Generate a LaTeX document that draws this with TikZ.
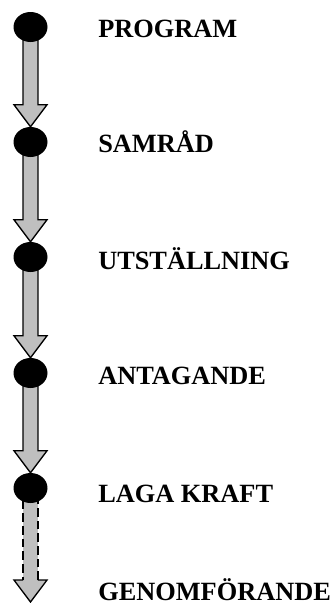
\documentclass[tikz,border=0pt]{standalone}
\usepackage{fontspec}
\setmainfont{Liberation Serif}
\usetikzlibrary{shapes,calc}
\tikzstyle{dot}=[ellipse,fill=black,inner sep=0pt,minimum width=25.5pt,minimum height=22.5pt]
\tikzstyle{lbl}=[anchor=base west,inner sep=0pt,font=\fontsize{19.75}{24}\selectfont\bfseries]
\tikzstyle{shaft}=[draw=black,line width=1pt,fill=black!25,line join=miter]
\pgfdeclarelayer{bg}
\pgfsetlayers{bg,main}
\begin{document}
\begin{tikzpicture}[x=0.75pt,y=-0.75pt]
     \useasboundingbox (0,0) rectangle (334,603);
     \node [dot] (prog) at (30.5,27) {};
     \node [dot] (samr) at (30.5,142) {};
     \node [dot] (utst) at (30.5,257) {};
     \node [dot] (anta) at (30.5,373) {};
     \node [dot] (laga) at (30.5,488) {};
     \coordinate (slut) at (30.5,602);
     \node [lbl] (tprog) at (98,37) {PROGRAM};
     \node [lbl] (tsamr) at (98,152) {SAMRÅD};
     \node [lbl] (tutst) at (98,269) {UTSTÄLLNING};
     \node [lbl] (tanta) at (98,384) {ANTAGANDE};
     \node [lbl] (tlaga) at (98,502) {LAGA KRAFT};
     \node [lbl] (tgenom) at (98,600) {GENOMFÖRANDE};
     \begin{pgfonlayer}{bg}
      \foreach \a/\b in {prog/samr,samr/utst,utst/anta,anta/laga}
       \draw [shaft] let \p1=(\a.center), \p2=(\b.north) in
        (\x1-5.6pt,\y1) -- (\x1-5.6pt,\y2+16.5pt) -- (\x1-12.4pt,\y2+16.5pt) -- (\x2,\y2)
        -- (\x1+12.4pt,\y2+16.5pt) -- (\x1+5.6pt,\y2+16.5pt) -- (\x1+5.6pt,\y1) -- cycle;
      \fill [black!25] let \p1=(laga.center), \p2=(slut) in
        (\x1-5.6pt,\y1) -- (\x1-5.6pt,\y2+16.5pt) -- (\x1-12.4pt,\y2+16.5pt) -- (\x2,\y2)
        -- (\x1+12.4pt,\y2+16.5pt) -- (\x1+5.6pt,\y2+16.5pt) -- (\x1+5.6pt,\y1) -- cycle;
      \draw [shaft,fill=none,dash pattern=on 6.5pt off 3pt] let \p1=(laga.center), \p2=(slut) in
        (\x1-5.6pt,\y1) -- (\x1-5.6pt,\y2+16.5pt) (\x1+5.6pt,\y2+16.5pt) -- (\x1+5.6pt,\y1);
      \draw [shaft,fill=none] let \p1=(laga.center), \p2=(slut) in
        (\x1-5.6pt,\y2+16.5pt) -- (\x1-12.4pt,\y2+16.5pt) -- (\x2,\y2)
        -- (\x1+12.4pt,\y2+16.5pt) -- (\x1+5.6pt,\y2+16.5pt);
     \end{pgfonlayer}
    \end{tikzpicture}
\end{document}
